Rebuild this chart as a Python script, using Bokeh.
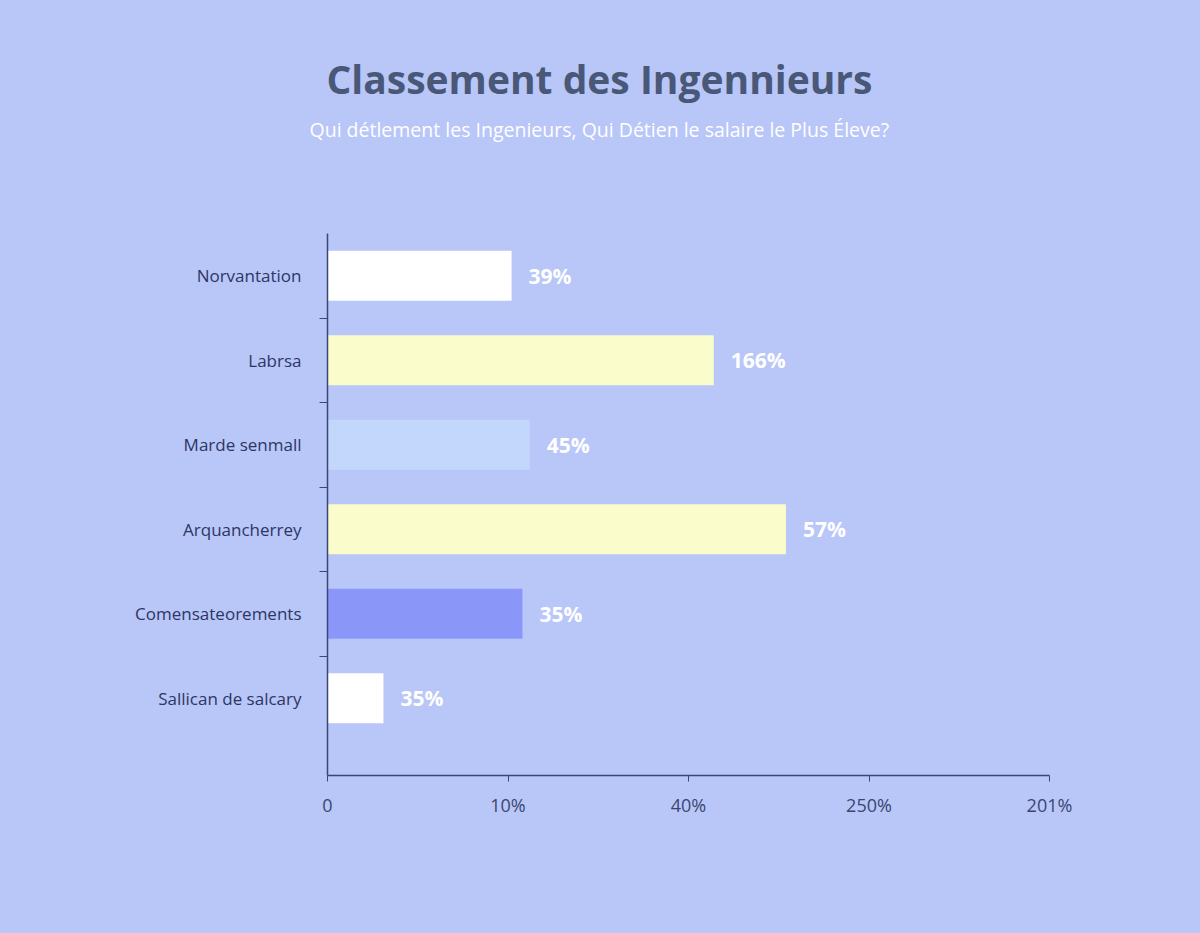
from bokeh.plotting import figure
from bokeh.models import ColumnDataSource, FixedTicker, Range1d, Title
from bokeh.embed import file_html
from bokeh.resources import INLINE

# data (x in tick-steps, labels as printed)
categories = [
    "Norvantation",
    "Labrsa",
    "Marde senmall",
    "Arquancherrey",
    "Comensateorements",
    "Sallican de salcary",
]
values = [1.02, 2.14, 1.12, 2.54, 1.08, 0.31]
value_labels = ["39%", "166%", "45%", "57%", "35%", "35%"]
bar_colors = ["#ffffff", "#fafccb", "#c3d6fb", "#fafccb", "#8b97f8", "#ffffff"]
x_ticks = [0, 1, 2, 3, 4]
x_tick_labels = ["0", "10%", "40%", "250%", "201%"]

BG = "#b9c6f8"
AXIS = "#3a4674"
FONT = "Open Sans"

positions = list(range(len(categories)))

source = ColumnDataSource(
    data=dict(
        y=positions,
        value=values,
        label=value_labels,
        color=bar_colors,
    )
)

p = figure(
    width=1200,
    height=933,
    output_backend="svg",
    toolbar_location=None,
    x_range=Range1d(0, 4),
    y_range=Range1d(5.914, -0.5),
    min_border_left=327,
    min_border_right=151,
    min_border_top=233,
    min_border_bottom=158,
    background_fill_alpha=0,
    border_fill_color=BG,
    outline_line_color=None,
)
p.grid.visible = False

p.hbar(
    y="y",
    right="value",
    left=0,
    height=0.59,
    color="color",
    line_color=None,
    source=source,
)

p.text(
    x="value",
    y="y",
    text="label",
    x_offset=17,
    text_align="left",
    text_baseline="middle",
    text_color="white",
    text_font_size="21px",
    text_font_style="bold",
    text_font={"value": FONT},
    source=source,
)

# y axis: labels at the bars, little ticks between them
p.yaxis.ticker = FixedTicker(
    ticks=positions, minor_ticks=[i + 0.5 for i in positions[:-1]]
)
p.yaxis.major_label_overrides = {i: c for i, c in enumerate(categories)}
p.yaxis.major_tick_out = 0
p.yaxis.major_tick_in = 0
p.yaxis.minor_tick_out = 8
p.yaxis.minor_tick_in = 0
p.yaxis.major_label_standoff = 18
p.yaxis.axis_line_color = AXIS
p.yaxis.minor_tick_line_color = AXIS
p.yaxis.axis_line_width = 1.5
p.yaxis.major_label_text_color = "#2c3664"
p.yaxis.major_label_text_font = FONT
p.yaxis.major_label_text_font_size = "17px"

p.xaxis.ticker = FixedTicker(ticks=x_ticks, minor_ticks=[])
p.xaxis.major_label_overrides = {t: s for t, s in zip(x_ticks, x_tick_labels)}
p.xaxis.major_tick_out = 6
p.xaxis.major_tick_in = 0
p.xaxis.minor_tick_out = 0
p.xaxis.axis_line_color = AXIS
p.xaxis.major_tick_line_color = AXIS
p.xaxis.axis_line_width = 1.5
p.xaxis.major_label_standoff = 11
p.xaxis.major_label_text_color = "#3a4670"
p.xaxis.major_label_text_font = FONT
p.xaxis.major_label_text_font_size = "18px"

# main title is the plot's own; a blank spacer and the subtitle stack below it
p.title.text = "Classement des Ingennieurs"
p.title.align = "left"
p.title.offset = -1
p.title.text_font = FONT
p.title.text_font_size = "39px"
p.title.text_font_style = "bold"
p.title.text_color = "#4a5878"
p.title.standoff = 7

spacer = Title(text=" ", text_font_size="1px", standoff=83)
subtitle = Title(
    text="Qui détlement les Ingenieurs, Qui Détien le salaire le Plus Éleve?",
    align="left",
    offset=-18,
    text_font=FONT,
    text_font_size="19.5px",
    text_font_style="normal",
    text_color="white",
    standoff=10,
)
p.add_layout(spacer, "above")
p.add_layout(subtitle, "above")

html = file_html(p, INLINE)
html = html.replace("</head>", "<style>html, body {background: %s;}</style></head>" % BG, 1)
open("out.html", "w").write(html)
